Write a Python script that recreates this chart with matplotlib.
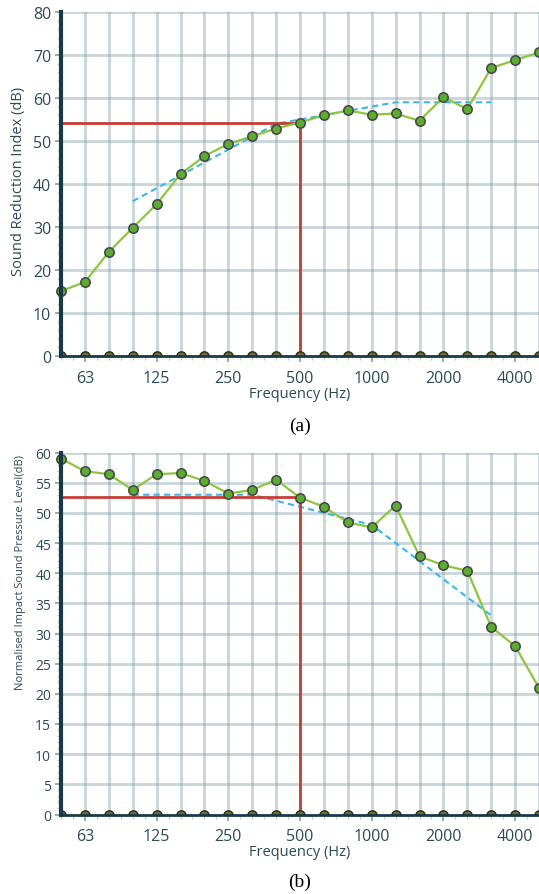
import matplotlib.pyplot as plt
from matplotlib.ticker import MultipleLocator

# %% =========================
# Datos
# ============================

bandas = ["50", "63", "80", "100", "125", "160", "200", "250", "315", "400",
          "500", "630", "800", "1000", "1250", "1600", "2000", "2500",
          "3150", "4000", "5000"]
etiquetas_x = ["63", "125", "250", "500", "1000", "2000", "4000"]

# (a) indice de reduccion sonora
R = [15.1, 17.2, 24.2, 29.8, 35.3, 42.3, 46.5, 49.3, 51.1, 52.9, 54.3,
     56.0, 57.1, 56.1, 56.4, 54.7, 60.2, 57.4, 67.0, 68.8, 70.6]
ref_R = [36, 39, 42, 45, 48, 51, 54, 55, 56, 57, 58, 59, 59, 59, 59, 59]  # 100-3150 Hz
valor_R = 54.3

# (b) nivel de presion de impacto normalizado
Ln = [59.0, 56.9, 56.4, 53.8, 56.4, 56.6, 55.3, 53.2, 53.8, 55.5, 52.5,
      51.0, 48.4, 47.6, 51.2, 42.8, 41.3, 40.4, 31.1, 27.9, 21.0]
ref_Ln = [53, 53, 53, 53, 53, 53, 52, 51, 50, 49, 48, 45, 42, 39, 36, 33]  # 100-3150 Hz
valor_Ln = 52.7

# %% =========================
# Estilo
# ============================

plt.rcParams["font.family"] = ["Open Sans", "DejaVu Sans"]
color_texto = "#2d4b56"
color_eje = "#173a45"
color_grid = "#7f9ba6"

x = list(range(len(bandas)))
x_ref = x[3:19]
pos_etiquetas = [bandas.index(e) for e in etiquetas_x]


def dibujar(ax, datos, ref, valor, ymax, paso, paso_menor, ylabel,
            size_y, size_ylabel, pos_ylabel):
    ax.set_xlim(0, 20)
    ax.set_ylim(0, ymax)

    # rejilla
    for xi in x:
        ax.axvline(xi, color=color_grid, lw=2, alpha=0.42, zorder=1)
    for yi in range(paso, ymax + 1, paso):
        ax.axhline(yi, color=color_grid, lw=2, alpha=0.42, zorder=1)

    # marcadores en cero
    ax.scatter(x, [0] * len(x), s=45, color="#6f6b35", edgecolor="#2b2a18",
               lw=1, zorder=4, clip_on=True)

    # curva de referencia
    ax.plot(x_ref, ref, color="#3db5e8", lw=1.5, ls=(0, (3, 2)), zorder=3)

    # valor a 500 Hz
    i500 = bandas.index("500")
    ax.plot([0, i500], [valor, valor], color="#c63d36", lw=2, zorder=3)
    ax.plot([i500, i500], [0, valor], color="#c63d36", lw=2, zorder=3)

    # datos medidos
    ax.plot(x, datos, color="#8cc63f", lw=1.6, zorder=5, clip_on=False)
    ax.scatter(x, datos, s=45, color="#5aad2f", edgecolor="#4a4a4a",
               lw=1.2, zorder=6, clip_on=False)

    for lado in ["top", "right"]:
        ax.spines[lado].set_visible(False)
    ax.spines["left"].set_color(color_eje)
    ax.spines["left"].set_linewidth(3)
    ax.spines["bottom"].set_color(color_eje)
    ax.spines["bottom"].set_linewidth(2)
    ax.spines["left"].set_zorder(7)
    ax.spines["bottom"].set_zorder(7)

    ax.set_xticks(pos_etiquetas)
    ax.set_xticklabels(etiquetas_x)
    ax.set_xticks([i + 0.5 for i in range(20)] + x, minor=True)
    ax.yaxis.set_major_locator(MultipleLocator(paso))
    ax.yaxis.set_minor_locator(MultipleLocator(paso_menor))
    ax.tick_params(axis="both", which="major", length=4, width=1.2,
                   color="#8aa0a8", labelcolor=color_texto, pad=3)
    ax.tick_params(axis="x", which="major", labelsize=11.5, pad=6)
    ax.tick_params(axis="y", which="major", labelsize=size_y)
    ax.tick_params(axis="both", which="minor", length=3, width=1,
                   color="#c5d0d4")

    ax.set_xlabel("Frequency (Hz)", fontsize=10.5, color=color_texto,
                  labelpad=0)
    ax.set_ylabel(ylabel, fontsize=size_ylabel, color=color_texto)
    ax.yaxis.set_label_coords(-0.074, pos_ylabel)


fig = plt.figure(figsize=(5.39, 8.95), dpi=100)

ax1 = fig.add_axes([61 / 539, 1 - 357 / 895, 478 / 539, 344 / 895])
dibujar(ax1, R, ref_R, valor_R, 80, 10, 2, "Sound Reduction Index (dB)",
        11.5, 10.5, 0.51)

ax2 = fig.add_axes([61 / 539, 1 - 815.5 / 895, 478 / 539, 362 / 895])
dibujar(ax2, Ln, ref_Ln, valor_Ln, 60, 5, 1,
        "Normalised Impact Sound Pressure Level(dB)", 10, 8, 0.67)

fig.text(300 / 539, 1 - 426 / 895, "(a)", ha="center", va="center",
         fontsize=14, family="Liberation Serif", color="black")
fig.text(300 / 539, 1 - 882 / 895, "(b)", ha="center", va="center",
         fontsize=14, family="Liberation Serif", color="black")

fig.savefig("out.png", dpi=100)
